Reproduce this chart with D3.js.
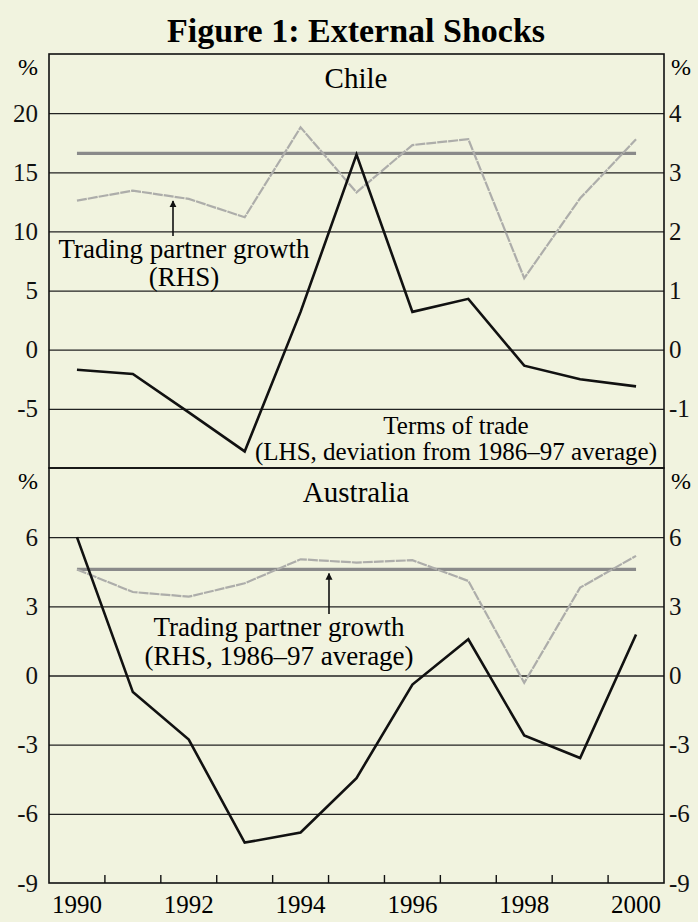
<!DOCTYPE html>
<html>
<head>
<meta charset="utf-8">
<script src="https://cdn.jsdelivr.net/npm/d3@7"></script>
<style>
  html, body { margin: 0; padding: 0; background: #f1f3df; }
  svg { display: block; font-family: "Liberation Serif", "Times New Roman", serif; }
  .axis path.domain { display: none; }
  .grid line { stroke: #222; stroke-width: 1.3; }
  .grid path.domain { display: none; }
</style>
</head>
<body>
<svg id="chart" width="698" height="922"></svg>
<script>
// years (observations plotted mid-year)
var years = [1990, 1991, 1992, 1993, 1994, 1995, 1996, 1997, 1998, 1999, 2000];
var yearLabels = [1990, 1992, 1994, 1996, 1998, 2000];

// Chile: terms of trade (LHS, % dev. from 1986-97 avg), trading partner growth (RHS)
var chileTot = [-1.7, -2.05, -5.3, -8.6, 3.2, 16.5, 3.2, 4.3, -1.35, -2.5, -3.1];
var chileTpg = [2.52, 2.69, 2.55, 2.24, 3.76, 2.66, 3.46, 3.56, 1.21, 2.56, 3.56];
var chileTpgAvg = 3.32;
var chileLeftTicks = [-5, 0, 5, 10, 15, 20];
var chileRightTicks = [-1, 0, 1, 2, 3, 4];

// Australia
var ausTot = [6.0, -0.72, -2.78, -7.25, -6.81, -4.45, -0.39, 1.57, -2.6, -3.58, 1.78];
var ausTpg = [4.6, 3.62, 3.42, 4.0, 5.04, 4.9, 5.0, 4.1, -0.32, 3.81, 5.19];
var ausTpgAvg = 4.6;
var ausTicks = [-9, -6, -3, 0, 3, 6];

var serif = '"Liberation Serif", "Times New Roman", serif';
var svg = d3.select("#chart");
var left = 49, right = 664;

var x = d3.scaleLinear().domain([1990, 2001]).range([left, right]);
var xMid = function(yr) { return x(yr + 0.5); };
var fmt = function(d) { return String(d); }; // plain hyphen minus like the original

svg.append("text")
    .attr("x", 356).attr("y", 42)
    .attr("text-anchor", "middle")
    .style("font-size", "34px").style("font-weight", "bold")
    .text("Figure 1: External Shocks");

function styleAxis(sel) {
    sel.attr("font-family", null).attr("font-size", null);
    sel.selectAll("text")
        .style("font-family", serif).style("font-size", "25px").attr("fill", "#111");
}

function drawPanel(opt) {
    var g = svg.append("g");
    var yL = d3.scaleLinear().domain(opt.leftDomain).range([opt.bottom, opt.top]);
    var yR = d3.scaleLinear().domain(opt.rightDomain).range([opt.bottom, opt.top]);

    // gridlines
    g.append("g").attr("class", "grid")
        .attr("transform", "translate(" + left + ",0)")
        .call(d3.axisLeft(yL).tickValues(opt.gridTicks).tickSize(-(right - left)).tickFormat(""));

    // frame
    g.append("rect")
        .attr("x", left).attr("y", opt.top)
        .attr("width", right - left).attr("height", opt.bottom - opt.top)
        .attr("fill", "none").attr("stroke", "#111").attr("stroke-width", 1.6);

    g.append("g").attr("class", "axis")
        .attr("transform", "translate(" + left + ",0)")
        .call(d3.axisLeft(yL).tickValues(opt.leftTicks).tickSize(0).tickPadding(11).tickFormat(fmt))
        .call(styleAxis);
    g.append("g").attr("class", "axis")
        .attr("transform", "translate(" + right + ",0)")
        .call(d3.axisRight(yR).tickValues(opt.rightTicks).tickSize(0).tickPadding(5).tickFormat(fmt))
        .call(styleAxis);

    g.append("text").attr("x", 38).attr("y", opt.top + 21).attr("text-anchor", "end")
        .style("font-size", "24px").text("%");
    g.append("text").attr("x", 671).attr("y", opt.top + 21)
        .style("font-size", "24px").text("%");

    g.append("text").attr("x", 356).attr("y", opt.top + 34).attr("text-anchor", "middle")
        .style("font-size", "29px").text(opt.name);

    // trading partner growth average
    g.append("line")
        .attr("x1", xMid(years[0])).attr("x2", xMid(years[years.length - 1]))
        .attr("y1", yR(opt.avg)).attr("y2", yR(opt.avg))
        .attr("stroke", "#8a8a8a").attr("stroke-width", 3.2);

    // trading partner growth
    g.append("path")
        .datum(opt.tpg)
        .attr("fill", "none").attr("stroke", "#adadaa").attr("stroke-width", 2.2)
        .attr("stroke-dasharray", "10,1")
        .attr("d", d3.line().x(function(d, i) { return xMid(years[i]); }).y(function(d) { return yR(d); }));

    // terms of trade
    g.append("path")
        .datum(opt.tot)
        .attr("fill", "none").attr("stroke", "#111").attr("stroke-width", 2.6)
        .attr("stroke-linejoin", "miter")
        .attr("d", d3.line().x(function(d, i) { return xMid(years[i]); }).y(function(d) { return yL(d); }));

    return { g: g, yL: yL, yR: yR };
}

var chile = drawPanel({
    name: "Chile", top: 54, bottom: 468,
    leftDomain: [-10, 25], rightDomain: [-2, 5],
    gridTicks: [-5, 0, 5, 10, 15, 20],
    leftTicks: chileLeftTicks, rightTicks: chileRightTicks,
    tot: chileTot, tpg: chileTpg, avg: chileTpgAvg
});

var aus = drawPanel({
    name: "Australia", top: 468, bottom: 883,
    leftDomain: [-9, 9], rightDomain: [-9, 9],
    gridTicks: [-6, -3, 0, 3, 6],
    leftTicks: ausTicks, rightTicks: ausTicks,
    tot: ausTot, tpg: ausTpg, avg: ausTpgAvg
});

// year ticks on the bottom, pointing up (at year boundaries)
svg.append("g").selectAll("line")
    .data(years.slice(1)).enter().append("line")
    .attr("x1", function(d) { return x(d); }).attr("x2", function(d) { return x(d); })
    .attr("y1", 883).attr("y2", 875)
    .attr("stroke", "#111").attr("stroke-width", 1.4);

svg.append("g").selectAll("text")
    .data(yearLabels).enter().append("text")
    .attr("x", function(d) { return xMid(d); }).attr("y", 913)
    .attr("text-anchor", "middle")
    .style("font-size", "25px")
    .text(function(d) { return d; });

// arrow marker
svg.append("defs").append("marker")
    .attr("id", "arrow").attr("viewBox", "0 0 10 10")
    .attr("refX", 9).attr("refY", 5)
    .attr("markerWidth", 7).attr("markerHeight", 9).attr("markerUnits", "userSpaceOnUse")
    .attr("orient", "auto")
  .append("path").attr("d", "M0,0L10,5L0,10z").attr("fill", "#111");

function annotate(lines, cx, y0, lh, size) {
    lines.forEach(function(t, i) {
        svg.append("text").attr("x", cx).attr("y", y0 + i * lh)
            .attr("text-anchor", "middle").style("font-size", size + "px").text(t);
    });
}

// Chile annotations
svg.append("line")
    .attr("x1", 173).attr("x2", 173)
    .attr("y1", 236).attr("y2", chile.yR(chileTpg[2]) + 2)
    .attr("stroke", "#111").attr("stroke-width", 1.6).attr("marker-end", "url(#arrow)");
annotate(["Trading partner growth", "(RHS)"], 184, 258, 28, 27);
annotate(["Terms of trade", "(LHS, deviation from 1986\u201397 average)"], 456, 434, 26, 25);

// Australia annotations
svg.append("line")
    .attr("x1", 329).attr("x2", 329)
    .attr("y1", 614).attr("y2", aus.yR(ausTpgAvg) + 4)
    .attr("stroke", "#111").attr("stroke-width", 1.6).attr("marker-end", "url(#arrow)");
annotate(["Trading partner growth", "(RHS, 1986\u201397 average)"], 279, 636, 29, 27);
</script>
</body>
</html>
